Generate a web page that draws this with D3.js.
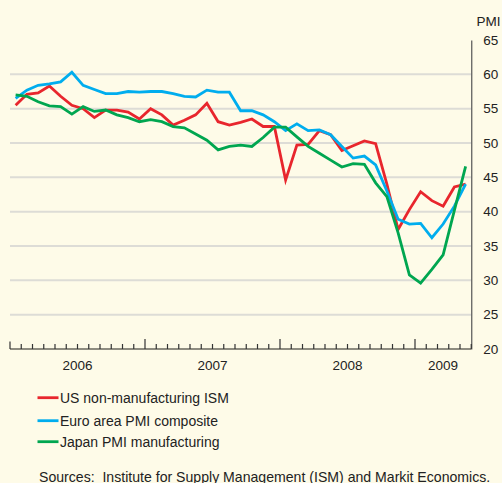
<!DOCTYPE html>
<html><head><meta charset="utf-8">
<script src="https://cdn.jsdelivr.net/npm/d3@7"></script>
<style>
html,body{margin:0;padding:0;background:#fefbe8;}
svg{display:block;font-family:"Liberation Sans",Arial,Helvetica,sans-serif;}
</style></head>
<body>
<svg id="chart" width="502" height="483"></svg>
<script>
// Months from Jan 2006 to May 2009 (41 monthly observations)
const startYear = 2006;
const monthCount = 41;
const yearLabels = ["2006", "2007", "2008", "2009"];
const yTicks = [20, 25, 30, 35, 40, 45, 50, 55, 60, 65];

const usISM = [55.5, 57.1, 57.3, 58.3, 56.8, 55.5, 55.0, 53.7, 54.8, 54.8, 54.5, 53.5,
  55.0, 54.1, 52.6, 53.3, 54.1, 55.8, 53.1, 52.6, 53.0, 53.5, 52.4, 52.4,
  44.6, 49.7, 49.8, 51.8, 51.2, 48.9, 49.6, 50.3, 49.9, 44.0, 37.4, 40.3,
  42.9, 41.6, 40.8, 43.6, 44.0];
const euroPMI = [56.5, 57.7, 58.4, 58.6, 58.9, 60.3, 58.4, 57.8, 57.2, 57.2, 57.5, 57.4,
  57.5, 57.5, 57.2, 56.8, 56.7, 57.7, 57.4, 57.4, 54.7, 54.7, 54.1, 53.1,
  51.8, 52.8, 51.8, 51.9, 51.2, 49.5, 47.8, 48.1, 46.8, 43.0, 38.9, 38.2,
  38.3, 36.2, 38.2, 40.8, 44.0];
const japanPMI = [57.0, 56.8, 56.0, 55.4, 55.3, 54.2, 55.3, 54.6, 54.8, 54.1, 53.7, 53.1,
  53.4, 53.1, 52.4, 52.2, 51.3, 50.4, 49.0, 49.5, 49.7, 49.5, 50.8, 52.3,
  52.3, 50.9, 49.5, 48.5, 47.5, 46.5, 47.0, 46.9, 44.2, 42.2, 36.9, 30.8,
  29.6, 31.6, 33.7, 40.2, 46.6];

const seriesNames = ["US non-manufacturing ISM", "Euro area PMI composite", "Japan PMI manufacturing"];
const seriesColors = ["#e8262d", "#00adee", "#00a650"];
const seriesValues = [usISM, euroPMI, japanPMI];

const svg = d3.select("#chart");
const W = 502, H = 483;
svg.append("rect").attr("width", W).attr("height", H).attr("fill", "#fefbe8");

const x = d3.scaleLinear().domain([0, monthCount]).range([10, 471.25]);
const y = d3.scaleLinear().domain([20, 65]).range([349, 40]);

// gridlines
svg.append("g").selectAll("line").data(yTicks.filter(v => v > 20 && v < 65)).join("line")
  .attr("x1", x(0)).attr("x2", x(monthCount))
  .attr("y1", d => y(d)).attr("y2", d => y(d))
  .attr("stroke", "#dddcd6").attr("stroke-width", 2);

// right axis
const yAxis = d3.axisRight(y).tickValues(yTicks).tickSize(0).tickPadding(12);
const gy = svg.append("g").attr("transform", `translate(${x(monthCount)},0)`).call(yAxis);
gy.select(".domain").attr("stroke", "#555").attr("stroke-width", 1.2);
gy.selectAll("text").attr("font-size", 13.5).attr("fill", "#222")
  .attr("font-family", "Liberation Sans, Arial, sans-serif");

svg.append("text").attr("x", 476.5).attr("y", 26).text("PMI")
  .attr("font-size", 13.5).attr("fill", "#222");

// bottom axis: month ticks
const monthTicks = d3.range(0, monthCount + 1);
const xAxis = d3.axisBottom(x).tickValues(monthTicks).tickSize(0).tickFormat("");
const gx = svg.append("g").attr("transform", `translate(0,${y(20)})`).call(xAxis);
gx.select(".domain").remove();
svg.append("line").attr("x1", x(0)).attr("x2", x(monthCount))
  .attr("y1", y(20)).attr("y2", y(20)).attr("stroke", "#8e8c80").attr("stroke-width", 2);
svg.append("g").selectAll("line").data(monthTicks).join("line")
  .attr("x1", d => x(d)).attr("x2", d => x(d))
  .attr("y1", y(20)).attr("y2", d => y(20) - (d % 12 === 0 ? (d === 0 ? 7.5 : 10) : 5))
  .attr("stroke", "#333").attr("stroke-width", 1.2);

// year labels
const yearCenters = yearLabels.map((lab, i) => {
  const s = i * 12, e = Math.min((i + 1) * 12, monthCount);
  return { lab, cx: (x(s) + x(e)) / 2 };
});
svg.append("g").selectAll("text").data(yearCenters).join("text")
  .attr("x", d => d.cx).attr("y", 369.5).attr("text-anchor", "middle")
  .attr("font-size", 13.5).attr("fill", "#222").text(d => d.lab);

// lines
const line = d3.line().x((d, i) => x(i + 0.5)).y(d => y(d));
svg.append("g").selectAll("path").data(seriesValues).join("path")
  .attr("d", d => line(d)).attr("fill", "none")
  .attr("stroke", (d, i) => seriesColors[i]).attr("stroke-width", 2.8)
  .attr("stroke-linejoin", "miter").attr("stroke-linecap", "butt");

// legend
const legY = [397.7, 420.7, 441.7];
const leg = svg.append("g").selectAll("g").data(seriesNames).join("g")
  .attr("transform", (d, i) => `translate(0,${legY[i]})`);
leg.append("line").attr("x1", 37.5).attr("x2", 58.5).attr("y1", 0).attr("y2", 0)
  .attr("stroke", (d, i) => seriesColors[i]).attr("stroke-width", 2.8);
leg.append("text").attr("x", 60).attr("y", 5).attr("font-size", 14).attr("fill", "#222").text(d => d);

svg.append("text").attr("x", 39).attr("y", 481.5).attr("font-size", 14.1).attr("fill", "#222")
  .attr("xml:space", "preserve")
  .text("Sources:  Institute for Supply Management (ISM) and Markit Economics.");
</script>
</body></html>
